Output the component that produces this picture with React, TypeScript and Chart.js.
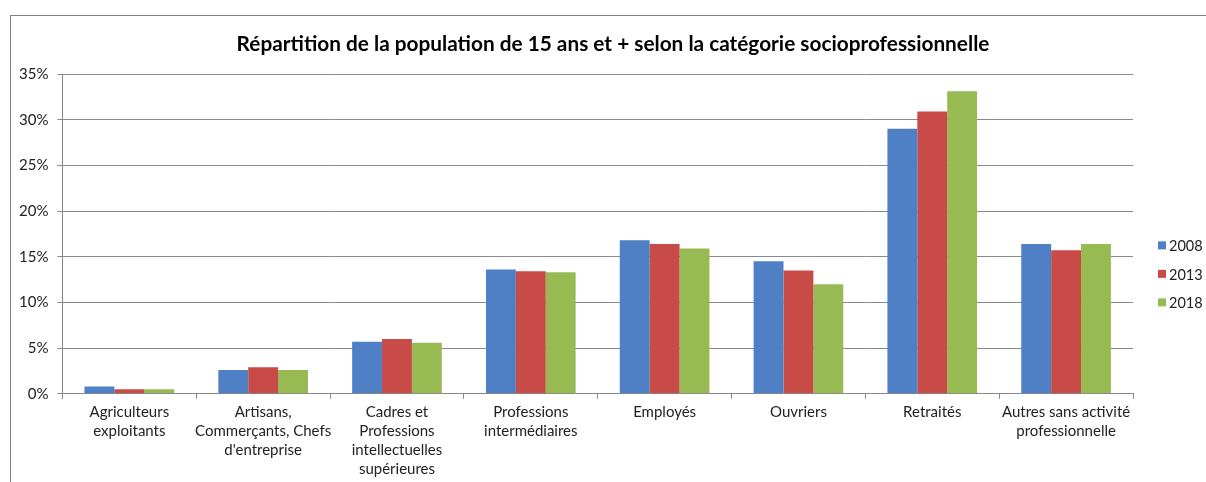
import React, { useEffect, useRef } from "react";
import { Chart, registerables } from "chart.js";

Chart.register(...registerables);

const categories: (string | string[])[] = [
  ["Agriculteurs", "exploitants"],
  ["Artisans,", "Commerçants, Chefs", "d'entreprise"],
  ["Cadres et", "Professions", "intellectuelles", "supérieures"],
  ["Professions", "intermédiaires"],
  "Employés",
  "Ouvriers",
  "Retraités",
  ["Autres sans activité", "professionnelle"],
];

const years = ["2008", "2013", "2018"];
const values2008 = [0.8, 2.6, 5.7, 13.6, 16.8, 14.5, 29.0, 16.4];
const values2013 = [0.5, 2.9, 6.0, 13.4, 16.4, 13.5, 30.9, 15.7];
const values2018 = [0.5, 2.6, 5.6, 13.3, 15.9, 12.0, 33.1, 16.4];

const title = "Répartition de la population de 15 ans et + selon la catégorie socioprofessionnelle";
const yMax = 35;
const yStep = 5;

const colors = ["#4f7fc4", "#c84b48", "#97ba52"];
const FONT = "Lato, 'Liberation Sans', sans-serif";

const sideDecor = {
  id: "sideDecor",
  afterDraw(chart: any) {
    const { ctx, chartArea, width } = chart;
    ctx.save();
    // title, centred on the framed area
    ctx.font = `bold 20.8px ${FONT}`;
    ctx.fillStyle = "#000";
    ctx.textAlign = "center";
    ctx.textBaseline = "middle";
    ctx.fillText(title, (10 + width) / 2 + 5, chartArea.top - 30);
    // legend on the right
    const x = chartArea.right + 25;
    const midY = chartArea.top + (chartArea.bottom - chartArea.top) * 0.625;
    const step = 28.5;
    ctx.font = `14.5px ${FONT}`;
    ctx.textAlign = "left";
    chart.data.datasets.forEach((ds: any, i: number) => {
      const y = midY + (i - 1) * step;
      ctx.fillStyle = ds.backgroundColor;
      ctx.fillRect(x, y - 4, 8, 8);
      ctx.fillStyle = "#222";
      ctx.fillText(ds.label, x + 11, y + 1);
    });
    ctx.restore();
  },
};

export default function App() {
  const ref = useRef<HTMLCanvasElement | null>(null);

  useEffect(() => {
    if (!ref.current) return;
    const chart = new Chart(ref.current, {
      type: "bar",
      data: {
        labels: categories,
        datasets: [values2008, values2013, values2018].map((d, i) => ({
          label: years[i],
          data: d,
          backgroundColor: colors[i],
          borderWidth: 0,
          categoryPercentage: 0.67,
          barPercentage: 1,
        })),
      },
      options: {
        animation: false,
        responsive: false,
        maintainAspectRatio: false,
        layout: { padding: { left: 10, right: 73, top: 74, bottom: -1 } },
        plugins: {
          title: { display: false },
          legend: { display: false },
          tooltip: { enabled: false },
        },
        scales: {
          x: {
            grid: {
              offset: true,
              drawOnChartArea: false,
              drawTicks: true,
              tickLength: 5,
              color: "#888",
            },
            border: { color: "#888" },
            ticks: {
              color: "#222",
              font: { family: FONT, size: 15, lineHeight: 1.27 },
              maxRotation: 0,
              autoSkip: false,
              padding: 4,
            },
          },
          y: {
            min: 0,
            max: yMax,
            ticks: {
              stepSize: yStep,
              color: "#222",
              font: { family: FONT, size: 15 },
              callback: (v: any) => v + "%",
              padding: 9,
            },
            grid: { color: "#8a8a8a", tickLength: 5 },
            border: { color: "#888" },
          },
        },
      },
      plugins: [sideDecor],
    });
    return () => chart.destroy();
  }, []);

  return (
    <div style={{ position: "fixed", left: 0, top: 0, width: 1206, height: 482, background: "#fff" }}>
      <canvas ref={ref} width={1206} height={482} style={{ position: "absolute", left: 0, top: 0 }} />
      <div
        style={{
          position: "absolute",
          left: 10,
          top: 15,
          right: 0,
          bottom: 0,
          borderTop: "1px solid #808080",
          borderLeft: "1px solid #808080",
          pointerEvents: "none",
        }}
      />
    </div>
  );
}
